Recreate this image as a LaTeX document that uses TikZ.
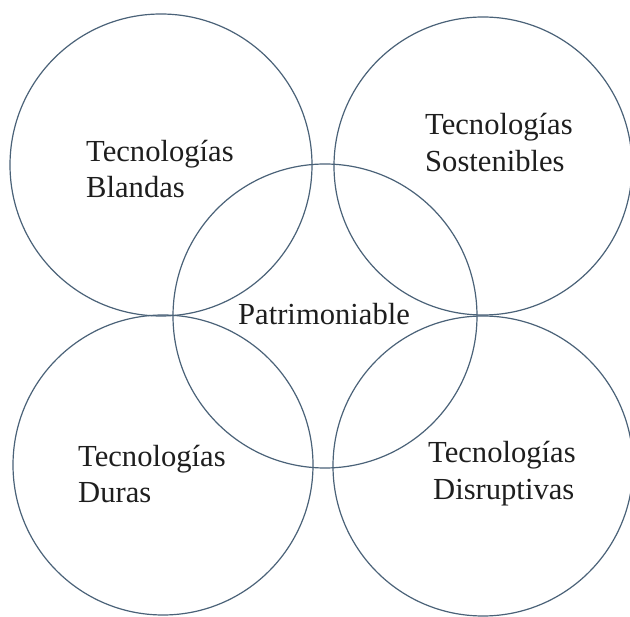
\documentclass[tikz,border=0pt]{standalone}
\usepackage{fontspec}
\setmainfont{Liberation Serif}
\definecolor{ring}{HTML}{4A6278}
\definecolor{ink}{HTML}{1E1E1E}
\begin{document}
\begin{tikzpicture}[x=1pt,y=-1pt,
  ringc/.style={circle,draw=ring,line width=1.2pt,inner sep=0pt},
  lbl/.style={text=ink,font=\fontsize{30.6}{36}\selectfont,inner sep=0pt}]
\useasboundingbox (0,0) rectangle (630,617);
\fill[white] (0,0) rectangle (630,617);
\node[ringc,minimum size=302pt] (tl) at (161,165) {};
\node[ringc,minimum size=298pt] (tr) at (483,166) {};
\node[ringc,minimum size=300pt] (bl) at (163,465) {};
\node[ringc,minimum size=300pt] (br) at (483,466) {};
\node[ringc,minimum size=304pt] (c) at (325,316) {};
\node[lbl,anchor=base west] (t1) at (86,162) {Tecnologías};
\node[lbl,anchor=base west] (t1b) at (86,198) {Blandas};
\node[lbl,anchor=base west] (t2) at (425,135) {Tecnologías};
\node[lbl,anchor=base west] (t2b) at (425,172) {Sostenibles};
\node[lbl,anchor=base west] (t3) at (78,467) {Tecnologías};
\node[lbl,anchor=base west] (t3b) at (78,503) {Duras};
\node[lbl,anchor=base west] (t4) at (428,463) {Tecnologías};
\node[lbl,anchor=base west] (t4b) at (433,500) {Disruptivas};
\node[lbl,anchor=base west] (p) at (238,325) {Patrimoniable};
\end{tikzpicture}
\end{document}
